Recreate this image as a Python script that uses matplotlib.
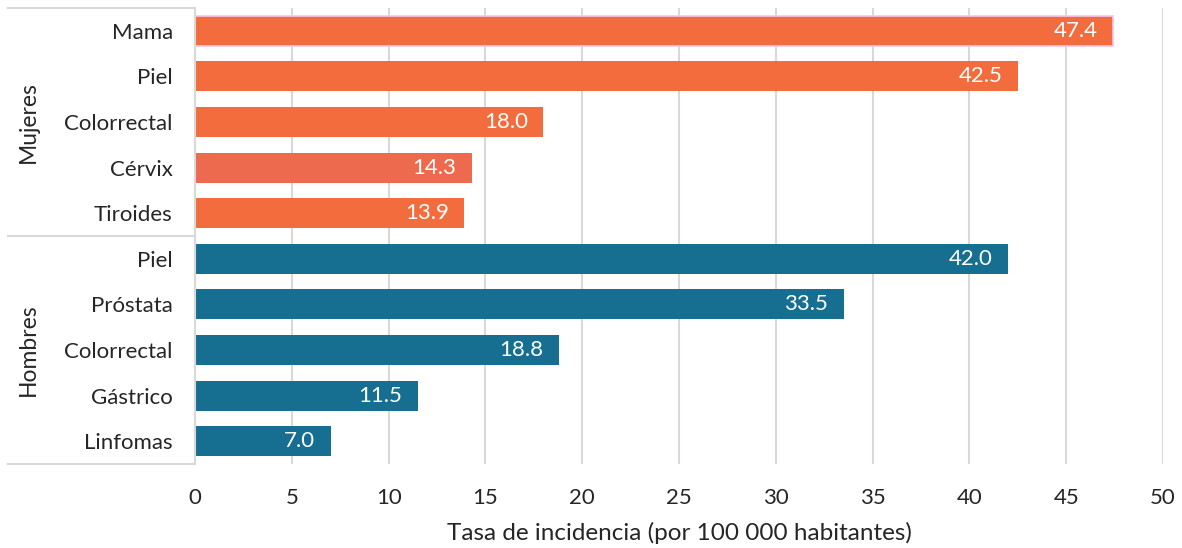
import numpy as np
import matplotlib.pyplot as plt
from matplotlib.lines import Line2D

plt.rcParams['font.family'] = ['Lato', 'DejaVu Sans']

# Data
groups = ['Mujeres', 'Hombres']
categorias = ['Mama', 'Piel', 'Colorrectal', 'Cérvix', 'Tiroides',
              'Piel', 'Próstata', 'Colorrectal', 'Gástrico', 'Linfomas']
tasas = [47.4, 42.5, 18.0, 14.3, 13.9, 42.0, 33.5, 18.8, 11.5, 7.0]
colores = ['#F26C3E', '#F26C3E', '#F26C3E', '#EE6A4E', '#F26C3E',
           '#166F91', '#166F91', '#166F91', '#166F91', '#166F91']
xticks = [0, 5, 10, 15, 20, 25, 30, 35, 40, 45, 50]

W, H = 1182, 548
fig = plt.figure(figsize=(W / 100, H / 100), dpi=100)
ax = fig.add_axes([195 / W, 1 - 464 / H, (1163 - 195) / W, (464 - 8) / H])

y = np.arange(len(categorias))
bars = ax.barh(y, tasas, height=0.66, color=colores, zorder=3)
# pink outline on the first bar
bars[0].set_edgecolor('#F7C6EE')
bars[0].set_linewidth(1.2)

for yi, v in zip(y, tasas):
    ax.annotate(f'{v:.1f}', xy=(v, yi), xytext=(-11, 0), textcoords='offset points',
                ha='right', va='center', color='white', fontsize=16, zorder=4)

ax.set_xlim(0, 50)
ax.set_ylim(len(categorias) - 0.5, -0.5)
ax.set_xticks(xticks)
ax.set_xticklabels([str(t) for t in xticks], fontsize=16, color='#262626')
ax.set_yticks(y)
ax.set_yticklabels(categorias, fontsize=16, color='#262626')
ax.tick_params(axis='x', length=0, pad=17)
ax.tick_params(axis='y', length=0, pad=16)
ax.grid(axis='x', color='#D9D9D9', linewidth=1.5, zorder=0)
for s in ax.spines.values():
    s.set_visible(False)

ax.set_xlabel('Tasa de incidencia (por 100 000 habitantes)', fontsize=17.5,
              color='#262626', labelpad=10)

# group separators on the left
for py in [8, 236, 464]:
    fig.add_artist(Line2D([8 / W, 195 / W], [1 - py / H, 1 - py / H],
                          color='#D9D9D9', linewidth=1.5))
fig.add_artist(Line2D([195 / W, 195 / W], [1 - 8 / H, 1 - 464 / H],
                      color='#D9D9D9', linewidth=1.5))

fig.text(28 / W, 1 - 122 / H, groups[0], rotation=90, ha='center', va='center',
         fontsize=16.5, color='#262626')
fig.text(28 / W, 1 - 350 / H, groups[1], rotation=90, ha='center', va='center',
         fontsize=16.5, color='#262626')

fig.savefig('out.png', dpi=100)
